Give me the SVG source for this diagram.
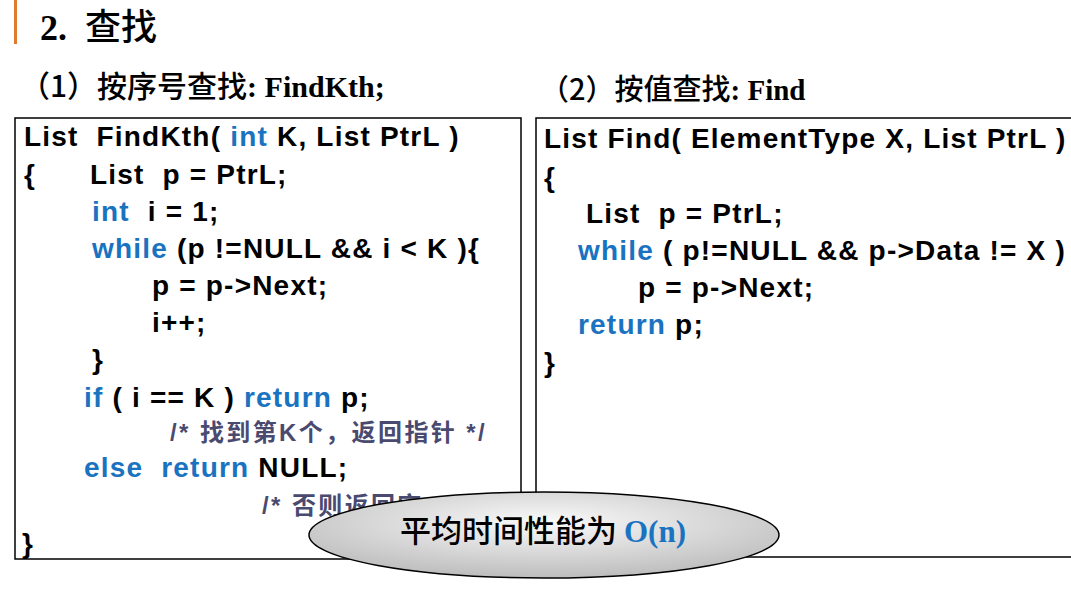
<svg xmlns="http://www.w3.org/2000/svg" width="1071" height="590" viewBox="0 0 1071 590">
<style>
text{white-space:pre}
.c{font-family:"Liberation Sans","Noto Sans CJK SC",sans-serif;font-weight:bold;font-size:28px;letter-spacing:1.2px;fill:#000}
.k{fill:#1a73c0}
.cm{font-family:"Liberation Sans","Noto Sans CJK SC",sans-serif;font-weight:bold;font-size:24px;letter-spacing:2.4px;fill:#4a4a70}
.h{font-family:"Liberation Serif","Noto Sans CJK SC",serif;font-weight:bold;fill:#000}
.box{fill:#fff;stroke:#000;stroke-width:1.5}
</style>
<defs>
<radialGradient id="g" cx="0.5" cy="0.35" r="0.7">
<stop offset="0" stop-color="#fafafa"/><stop offset="1" stop-color="#b8b8b8"/>
</radialGradient>
</defs>
<rect width="1071" height="590" fill="#fff"/>
<rect x="14" y="0" width="3" height="44" fill="#e07a2e"/>
<text class="h" x="40" y="40" font-size="36">2.  <tspan font-family="Noto Sans CJK SC" font-weight="500">查找</tspan></text>
<text class="h" x="20" y="97" font-size="30"><tspan font-family="Noto Sans CJK SC" font-weight="500">（1）按序号查找</tspan>: FindKth;</text>
<text class="h" x="540" y="100" font-size="29"><tspan font-family="Noto Sans CJK SC" font-weight="500">（2）按值查找</tspan>: Find</text>
<g id="left">
<rect class="box" x="15" y="118" width="506" height="441"/>
<text class="c" x="24" y="146">List  FindKth( <tspan class="k">int</tspan> K, List PtrL )</text>
<text class="c" x="24" y="184">{      List  p = PtrL;</text>
<text class="c" x="92" y="221"><tspan class="k">int</tspan>  i = 1;</text>
<text class="c" x="92" y="258"><tspan class="k">while</tspan> (p !=NULL &amp;&amp; i &lt; K ){</text>
<text class="c" x="152" y="295">p = p-&gt;Next;</text>
<text class="c" x="152" y="332">i++;</text>
<text class="c" x="92" y="369">}</text>
<text class="c" x="84" y="407"><tspan class="k">if</tspan> ( i == K ) <tspan class="k">return</tspan> p;</text>
<text class="cm" x="170" y="441">/* 找到第K个，返回指针 */</text>
<text class="c" x="84" y="477"><tspan class="k">else  return</tspan> NULL;</text>
<text class="cm" x="262" y="514">/* 否则返回空 */</text>
<text class="c" x="22" y="553">}</text>
</g>
<g id="right">
<rect class="box" x="536" y="118" width="545" height="439"/>
<text class="c" x="544" y="148">List Find( ElementType X, List PtrL )</text>
<text class="c" x="544" y="187">{</text>
<text class="c" x="586" y="223">List  p = PtrL;</text>
<text class="c" x="578" y="260"><tspan class="k">while</tspan> ( p!=NULL &amp;&amp; p-&gt;Data != X )</text>
<text class="c" x="638" y="297">p = p-&gt;Next;</text>
<text class="c" x="578" y="334"><tspan class="k">return</tspan> p;</text>
<text class="c" x="544" y="372">}</text>
</g>
<g id="note">
<ellipse cx="544" cy="535" rx="235" ry="43" fill="url(#g)" stroke="#000" stroke-width="1.5"/>
<text class="h" x="400" y="542" font-size="31"><tspan font-family="Noto Sans CJK SC" font-weight="500">平均时间性能为 </tspan><tspan fill="#1a73c0">O(n)</tspan></text>
</g>
</svg>
